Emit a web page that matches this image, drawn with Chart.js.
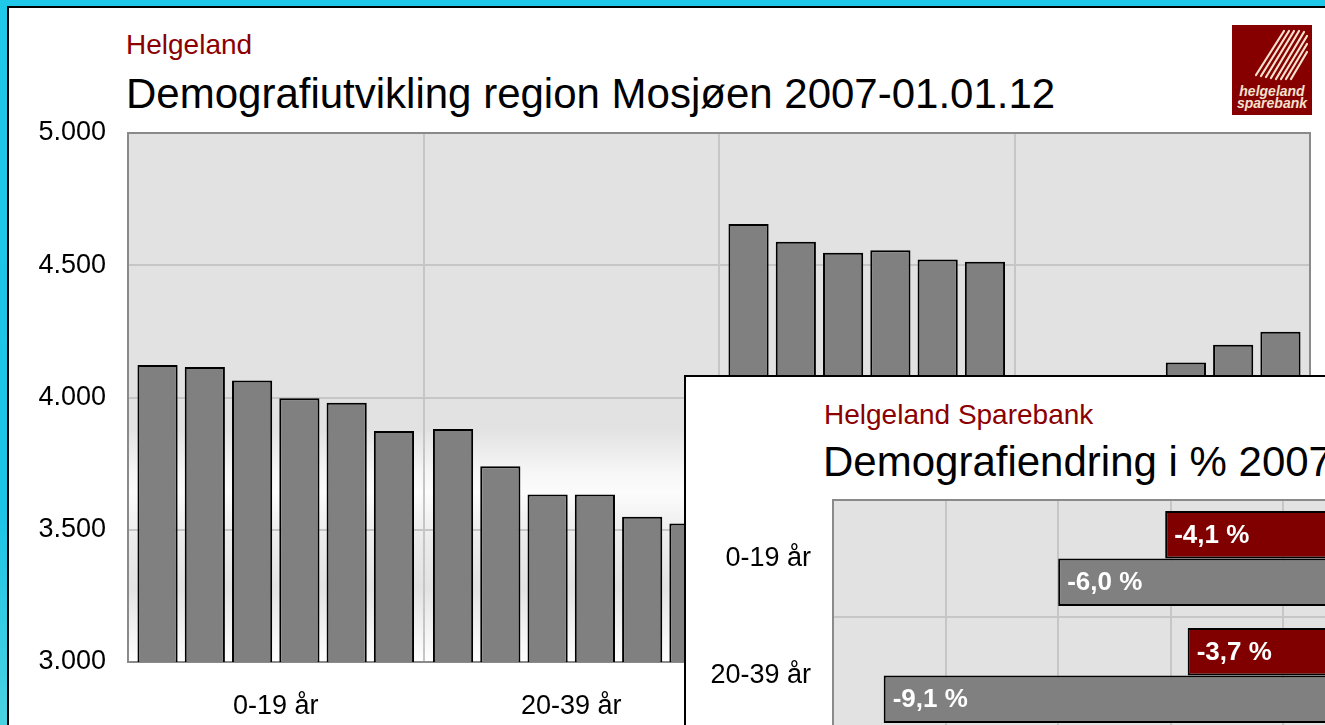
<!DOCTYPE html>
<html>
<head>
<meta charset="utf-8">
<script src="https://cdn.jsdelivr.net/npm/chart.js@4.4.1/dist/chart.umd.min.js"></script>
<style>
  html, body { margin: 0; padding: 0; width: 1325px; height: 725px; overflow: hidden; }
  body {
    position: relative;
    background: linear-gradient(to bottom, #1fc8e8 0%, #1bc3e6 70%, #4ad3e2 100%);
    font-family: "Liberation Sans", Arial, sans-serif;
  }
  .abs { position: absolute; white-space: nowrap; line-height: 1; }
  #panel { left: 7px; top: 6px; width: 1340px; height: 740px; background: #fff; border-left: 2px solid #000; border-top: 2px solid #000; }
  #insetBox { left: 684px; top: 375px; width: 700px; height: 400px; background: #fff; border-left: 2px solid #000; border-top: 2px solid #000; z-index: 3; }
  .red { color: #8b0000; }
  #logo { left: 1232px; top: 25px; width: 80px; height: 90px; background: #870000; z-index: 2; }
  #logo .txt { position: absolute; left: 0; width: 80px; text-align: center; color: #f3e2cf; font: italic bold 14px "Liberation Sans", Arial, sans-serif; line-height: 12px; }
</style>
</head>
<body>
<div id="panel" class="abs"></div>

<div class="abs red" style="left:126px; top:31px; font-size:28px;">Helgeland</div>
<div class="abs" style="left:126px; top:73px; font-size:42px; color:#000;">Demografiutvikling region Mosjøen 2007-01.01.12</div>

<div id="logo" class="abs">
  <svg width="80" height="60" style="position:absolute; left:0; top:0;">
    <g stroke="#f3e2cf" stroke-width="2.2" stroke-linecap="round">
      <line x1="52" y1="6" x2="24" y2="50"/>
      <line x1="57" y1="6" x2="29" y2="51"/>
      <line x1="62" y1="6" x2="34" y2="52"/>
      <line x1="67" y1="6" x2="39" y2="53"/>
      <line x1="72" y1="7" x2="44" y2="54"/>
      <line x1="75" y1="11" x2="49" y2="54"/>
      <line x1="75" y1="19" x2="54" y2="54"/>
      <line x1="75" y1="27" x2="59" y2="54"/>
    </g>
  </svg>
  <div class="txt" style="top:60px;">helgeland</div>
  <div class="txt" style="top:72px;">sparebank</div>
</div>

<canvas id="main" class="abs" width="1315" height="717" style="left:10px; top:8px; width:1315px; height:717px;"></canvas>

<div id="insetBox" class="abs"></div>
<div class="abs red" style="left:824px; top:401px; font-size:28px; z-index:4;">Helgeland Sparebank</div>
<div class="abs" style="left:823px; top:441px; font-size:42px; color:#000; z-index:4;">Demografiendring i % 2007-01.01.12</div>
<canvas id="inset" class="abs" width="740" height="360" style="left:687px; top:378px; width:740px; height:360px; z-index:4;"></canvas>

<script>
const categories = ['0-19 år', '20-39 år', '40-59 år', '60 år +'];
const years = ['2007', '2008', '2009', '2010', '2011', '2012'];
const pop2007 = [4123, 3881, 4656, 3950];
const pop2008 = [4115, 3740, 4589, 4000];
const pop2009 = [4064, 3633, 4547, 4055];
const pop2010 = [3997, 3633, 4557, 4132];
const pop2011 = [3980, 3549, 4522, 4199];
const pop2012 = [3873, 3524, 4513, 4249];
const yTickValues = [3000, 3500, 4000, 4500, 5000];
const yTickLabels = ['3.000', '3.500', '4.000', '4.500', '5.000'];

const changeCategories = ['0-19 år', '20-39 år'];
const changeHelgeland = [-4.1, -3.7];
const changeMosjoen = [-6.0, -9.1];

const FONT = '"Liberation Sans", Arial, sans-serif';
Chart.defaults.font.family = FONT;
Chart.defaults.color = '#000';

const GRID = '#c6c6c6';
const EDGE = '#8a8a8a';

// plot area fill, drawn before the grid
const plotFill = {
  id: 'plotFill',
  beforeDraw(chart, args, opts) {
    const { ctx, chartArea: a } = chart;
    ctx.save();
    if (opts.stops) {
      const g = ctx.createLinearGradient(0, a.top, 0, a.bottom);
      opts.stops.forEach(s => g.addColorStop(s[0], s[1]));
      ctx.fillStyle = g;
    } else {
      ctx.fillStyle = opts.color;
    }
    ctx.fillRect(a.left, a.top, a.right - a.left, a.bottom - a.top);
    ctx.restore();
  },
  beforeDatasetsDraw(chart) {
    const { ctx, chartArea: a } = chart;
    ctx.save();
    ctx.strokeStyle = EDGE;
    ctx.lineWidth = 2;
    ctx.strokeRect(a.left, a.top, a.right - a.left, a.bottom - a.top);
    ctx.restore();
  }
};

const series = [pop2007, pop2008, pop2009, pop2010, pop2011, pop2012];

new Chart(document.getElementById('main'), {
  type: 'bar',
  data: {
    labels: categories,
    datasets: series.map((vals, i) => ({
      label: years[i],
      data: vals,
      backgroundColor: '#808080',
      borderColor: '#000',
      borderWidth: 2,
      barPercentage: 0.85,
      categoryPercentage: 0.96
    }))
  },
  options: {
    responsive: false,
    animation: false,
    layout: { padding: { top: 125, right: 15, left: 0, bottom: 0 } },
    plugins: {
      legend: { display: false },
      tooltip: { enabled: false },
      plotFill: {
        stops: [[0, '#e2e2e2'], [0.56, '#e2e2e2'], [0.64, '#f6f6f6'], [0.68, '#fcfcfc'],
                [0.76, '#ececec'], [0.86, '#e3e3e3'], [1, '#ffffff']]
      }
    },
    scales: {
      x: {
        grid: { color: GRID, lineWidth: 2, drawTicks: false, offset: true },
        border: { color: EDGE, width: 2 },
        ticks: { color: '#000', font: { size: 27 }, padding: 28, maxRotation: 0 },
        afterFit: s => { s.height = 63; }
      },
      y: {
        min: 3000,
        max: 5000,
        grid: { color: GRID, lineWidth: 2, drawTicks: false },
        border: { color: EDGE, width: 2 },
        ticks: {
          stepSize: 500,
          padding: 22,
          color: '#000',
          font: { size: 27 },
          callback: v => yTickLabels[yTickValues.indexOf(v)]
        },
        afterFit: s => { s.width = 118; }
      }
    }
  },
  plugins: [plotFill]
});

// white value labels at the tip of each horizontal bar
const barLabels = {
  id: 'barLabels',
  afterDatasetsDraw(chart) {
    const ctx = chart.ctx;
    ctx.save();
    ctx.font = 'bold 26px ' + FONT;
    ctx.fillStyle = '#fff';
    ctx.textAlign = 'left';
    ctx.textBaseline = 'middle';
    chart.data.datasets.forEach((ds, i) => {
      chart.getDatasetMeta(i).data.forEach((bar, j) => {
        const txt = ds.data[j].toFixed(1).replace('.', ',') + ' %';
        ctx.fillText(txt, bar.x + 9, bar.y + 1);
      });
    });
    ctx.restore();
  }
};

new Chart(document.getElementById('inset'), {
  type: 'bar',
  data: {
    labels: changeCategories,
    datasets: [
      { label: 'Helgeland', data: changeHelgeland, backgroundColor: '#800000', borderColor: '#000', borderWidth: 2 },
      { label: 'Region Mosjøen', data: changeMosjoen, backgroundColor: '#808080', borderColor: '#000', borderWidth: 2 }
    ]
  },
  options: {
    indexAxis: 'y',
    responsive: false,
    animation: false,
    datasets: { bar: { barPercentage: 1, categoryPercentage: 0.81 } },
    layout: { padding: { top: 122, right: 31, left: 0, bottom: 0 } },
    plugins: {
      legend: { display: false },
      tooltip: { enabled: false },
      plotFill: { color: '#e2e2e2' }
    },
    scales: {
      x: {
        min: -10,
        max: 0,
        ticks: { display: false, stepSize: 2 },
        grid: { color: GRID, lineWidth: 2, drawTicks: false },
        border: { color: EDGE, width: 2 },
        afterFit: s => { s.height = 4; }
      },
      y: {
        grid: { color: GRID, lineWidth: 2, drawTicks: false, offset: true },
        border: { color: EDGE, width: 2 },
        ticks: { color: '#000', font: { size: 27 }, padding: 22 },
        afterFit: s => {
          s.width = 146;
          // labels sit inside their rows, no room needed above/below
          s.paddingTop = 0;
          s.paddingBottom = 0;
        }
      }
    }
  },
  plugins: [plotFill, barLabels]
});
</script>
</body>
</html>
